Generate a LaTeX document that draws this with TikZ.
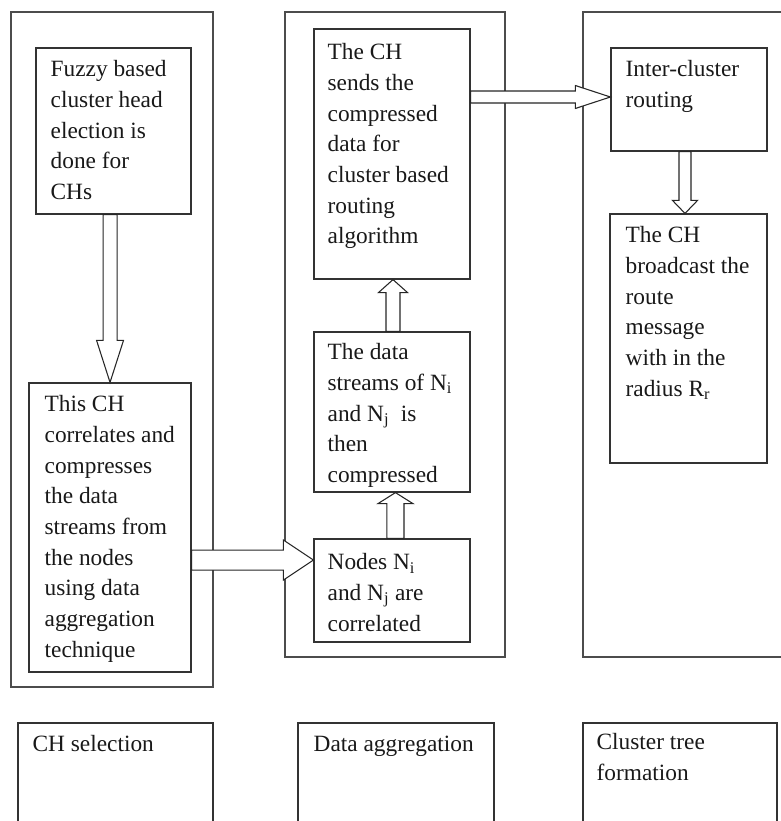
\documentclass[tikz,border=0pt]{standalone}
\usepackage{fontspec}
\setmainfont{Liberation Serif}
\usetikzlibrary{fit,calc}
% down arrow: from, to, x offset, half shaft, half head, head length (pt)
\newcommand\fatdown[6]{%
 \draw[fat] let \p1=(#1.south), \p2=(#2.north) in
 (\x1+#3-#4,\y1) -- (\x1+#3-#4,\y2+#6) -- (\x1+#3-#5,\y2+#6) -- (\x1+#3,\y2)
 -- (\x1+#3+#5,\y2+#6) -- (\x1+#3+#4,\y2+#6) -- (\x1+#3+#4,\y1) -- cycle;}
\newcommand\fatup[6]{%
 \draw[fat] let \p1=(#1.north), \p2=(#2.south) in
 (\x1+#3-#4,\y1) -- (\x1+#3-#4,\y2-#6) -- (\x1+#3-#5,\y2-#6) -- (\x1+#3,\y2)
 -- (\x1+#3+#5,\y2-#6) -- (\x1+#3+#4,\y2-#6) -- (\x1+#3+#4,\y1) -- cycle;}
\newcommand\fatright[6]{%
 \draw[fat] let \p1=(#1.east), \p2=(#2.west) in
 (\x1,\y1+#3+#4) -- (\x2-#6,\y1+#3+#4) -- (\x2-#6,\y1+#3+#5) -- (\x2,\y1+#3)
 -- (\x2-#6,\y1+#3-#5) -- (\x2-#6,\y1+#3-#4) -- (\x1,\y1+#3-#4) -- cycle;}
\begin{document}
\begin{tikzpicture}[x=0.75pt,y=-0.75pt,
  box/.style={draw=black!80, inner sep=0pt, line width=0.9pt},
  outer/.style={draw=black!70, inner sep=0pt, line width=1.1pt},
  fat/.style={draw=black!85, fill=white, line width=0.8pt, line join=miter},
  txt/.style={inner sep=0pt, anchor=north west, align=left,
              font=\fontsize{17.5}{23}\selectfont, text=black!90}]
\useasboundingbox (0,0) rectangle (781,821);
% outer frames
\node[outer, fit={(11,12)(213,687)}] (o1) {};
\node[outer, fit={(285,12)(505,657)}] (o2) {};
\node[outer, fit={(583,12)(800,657)}] (o3) {};
% inner boxes
\node[box, fill=white, fit={(36,48)(191,214)}] (fz) {};
\node[box, fill=white, fit={(29,383)(191,672)}] (ch) {};
\node[box, fill=white, fit={(314,29)(470,279)}] (snd) {};
\node[box, fill=white, fit={(314,332)(470,492)}] (dat) {};
\node[box, fill=white, fit={(314,539)(470,642)}] (nod) {};
\node[box, fill=white, fit={(611,48)(767,151)}] (inter) {};
\node[box, fill=white, fit={(610,214)(767,463)}] (bc) {};
% bottom labels boxes
\node[box, fit={(18,723)(213,840)}] (sel) {};
\node[box, fit={(298,723)(494,840)}] (agg) {};
\node[box, fit={(583,723)(777,840)}] (clu) {};
% texts
\node[txt] (tfz) at ($(fz.north west)+(15,13)$) {Fuzzy based\\cluster head\\election is\\done for\\CHs};
\node[txt] (tch) at ($(ch.north west)+(16,13)$) {This CH\\correlates and\\compresses\\the data\\streams from\\the nodes\\using data\\aggregation\\technique};
\node[txt] (tsnd) at ($(snd.north west)+(14,15)$) {The CH\\sends the\\compressed\\data for\\cluster based\\routing\\algorithm};
\begin{scope}
\clip (dat.north west) rectangle (dat.south east);
\node[txt] (tdat) at ($(dat.north west)+(14,12)$) {The data\\streams of N\textsubscript{i}\\and N\textsubscript{j}~ is\\then\\compressed};
\end{scope}
\node[txt] (tnod) at ($(nod.north west)+(14,15)$) {Nodes N\textsubscript{i}\\and N\textsubscript{j} are\\correlated};
\node[txt] (tint) at ($(inter.north west)+(15,13)$) {Inter-cluster\\routing};
\node[txt] (tbc) at ($(bc.north west)+(16,13)$) {The CH\\broadcast the\\route\\message\\with in the\\radius R\textsubscript{r}};
\node[txt] (tsel) at ($(sel.north west)+(15,13)$) {CH selection};
\node[txt] (tagg) at ($(agg.north west)+(16,13)$) {Data aggregation};
\node[txt] (tclu) at ($(clu.north west)+(14,11)$) {Cluster tree\\formation};
% block arrows
\fatdown{fz}{ch}{-2.6pt}{5.25pt}{10.1pt}{31.5pt}
\fatright{ch}{nod}{-24.4pt}{7.5pt}{15pt}{22.5pt}
\fatup{nod}{dat}{2.6pt}{6.4pt}{13.1pt}{8.25pt}
\fatup{dat}{snd}{0.75pt}{5.25pt}{10.9pt}{9.75pt}
\fatright{snd}{inter}{42.75pt}{4.5pt}{8.6pt}{26.25pt}
\fatdown{inter}{bc}{-3pt}{4.5pt}{9.4pt}{9.75pt}
\end{tikzpicture}
\end{document}
